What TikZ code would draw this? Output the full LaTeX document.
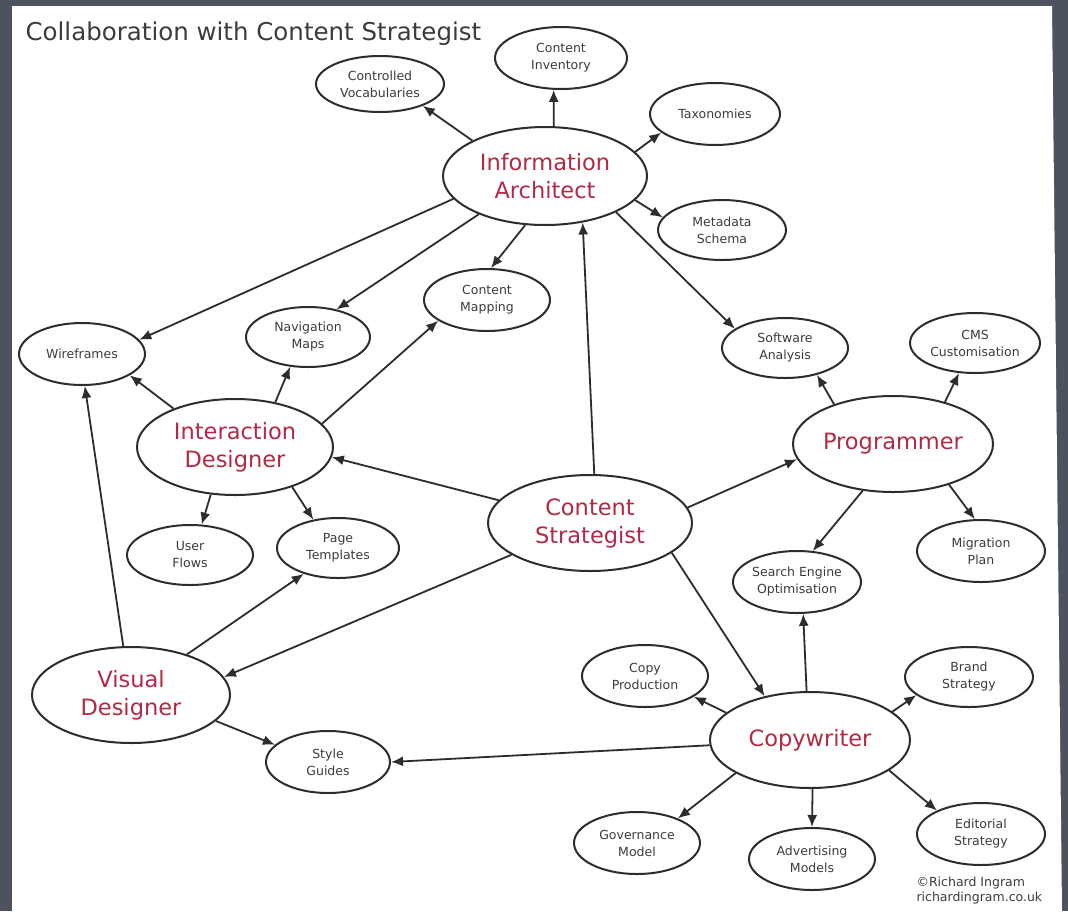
\documentclass[tikz,border=0pt]{standalone}
\usepackage{fontspec}
\setmainfont{DejaVu Sans}
\usetikzlibrary{shapes.geometric,arrows.meta}
\definecolor{bgc}{RGB}{76,82,94}
\definecolor{linec}{RGB}{45,45,45}
\definecolor{textc}{RGB}{60,60,60}
\definecolor{redc}{RGB}{178,42,68}
\newcommand\bigfnt{\fontsize{22.5}{28}\selectfont}
\newcommand\smallfnt{\fontsize{12.5}{17}\selectfont}
\begin{document}
\begin{tikzpicture}[x=1pt,y=-1pt,
  base/.style={ellipse, draw=linec, line width=2pt, fill=white, align=center, inner xsep=-14pt, inner ysep=0pt},
  big/.style={base, font=\bigfnt, text=redc},
  small/.style={base, font=\smallfnt, text=textc},
  arr/.style={draw=linec, line width=1.8pt, -{Latex[length=12pt,width=10pt]}}]
\useasboundingbox (0,0) rectangle (1068,911);
\fill[bgc] (0,0) rectangle (1068,911);
\fill[white] (12,6) -- (1052,6) -- (1062,911) -- (12,911) -- cycle;
\node[anchor=base west, font=\fontsize{24.5}{30}\selectfont, text=textc] (title) at (22,40) {Collaboration with Content Strategist};
% main roles
\node[big, minimum width=204pt, minimum height=98pt] (ia) at (545,176) {Information\\Architect};
\node[big, minimum width=196pt, minimum height=96pt] (id) at (235,447) {Interaction\\Designer};
\node[big, minimum width=204pt, minimum height=96pt] (cs) at (590,523) {Content\\Strategist};
\node[big, minimum width=200pt, minimum height=96pt] (pr) at (893,444) {Programmer};
\node[big, minimum width=198pt, minimum height=96pt] (vd) at (131,695) {Visual\\Designer};
\node[big, minimum width=200pt, minimum height=96pt] (cw) at (810,740) {Copywriter};
% small nodes
\node[small, minimum width=128pt, minimum height=56pt] (cv) at (380,84) {Controlled\\Vocabularies};
\node[small, minimum width=132pt, minimum height=62pt] (ci) at (561,58) {Content\\Inventory};
\node[small, minimum width=130pt, minimum height=62pt] (tx) at (715,114) {Taxonomies};
\node[small, minimum width=128pt, minimum height=60pt] (ms) at (722,230) {Metadata\\Schema};
\node[small, minimum width=126pt, minimum height=62pt] (cm) at (487,300) {Content\\Mapping};
\node[small, minimum width=124pt, minimum height=60pt] (nm) at (308,337) {Navigation\\Maps};
\node[small, minimum width=126pt, minimum height=62pt] (wf) at (82,354) {Wireframes};
\node[small, minimum width=126pt, minimum height=60pt] (uf) at (190,555) {User\\Flows};
\node[small, minimum width=122pt, minimum height=60pt] (pt) at (338,548) {Page\\Templates};
\node[small, minimum width=126pt, minimum height=60pt] (sa) at (785,348) {Software\\Analysis};
\node[small, minimum width=130pt, minimum height=60pt] (cc) at (975,343) {CMS\\Customisation};
\node[small, minimum width=128pt, minimum height=62pt] (mp) at (981,551) {Migration\\Plan};
\node[small, minimum width=128pt, minimum height=62pt] (se) at (797,582) {Search Engine\\Optimisation};
\node[small, minimum width=124pt, minimum height=62pt] (sg) at (328,762) {Style\\Guides};
\node[small, minimum width=126pt, minimum height=62pt] (cp) at (645,676) {Copy\\Production};
\node[small, minimum width=128pt, minimum height=60pt] (bs) at (969,677) {Brand\\Strategy};
\node[small, minimum width=126pt, minimum height=62pt] (gm) at (637,843) {Governance\\Model};
\node[small, minimum width=126pt, minimum height=62pt] (am) at (812,859) {Advertising\\Models};
\node[small, minimum width=128pt, minimum height=62pt] (es) at (981,834) {Editorial\\Strategy};
\node[anchor=north west, align=left, font=\fontsize{12.5}{15}\selectfont, text=textc] (credit) at (913,873) {©Richard Ingram\\richardingram.co.uk};
% connectors from Information Architect
\draw[arr] (ia.154) -- (cv.-27);
\draw[arr] (ia.80) -- (ci.-103);
\draw[arr] (ia.15) -- (tx.-161);
\draw[arr] (ia.-15) -- (ms.168);
\draw[arr] (ia.-27) -- (sa.159);
\draw[arr] (ia.-112) -- (cm.83);
\draw[arr] (ia.-150) -- (nm.44);
\draw[arr] (ia.-166) -- (wf.14);
% from Content Strategist
\draw[arr] (cs.85) -- (ia.-51);
\draw[arr] (cs.166) -- (id.-6);
\draw[arr] (cs.-158) -- (vd.11);
\draw[arr] (cs.9) -- (pr.-171);
\draw[arr] (cs.-20) -- (cw.136);
% from Interaction Designer
\draw[arr] (id.148) -- (wf.-24);
\draw[arr] (id.48) -- (nm.-121);
\draw[arr] (id.15) -- (cm.-157);
\draw[arr] (id.-117) -- (uf.69);
\draw[arr] (id.-35) -- (pt.131);
% from Visual Designer
\draw[arr] (vd.99) -- (wf.-85);
\draw[arr] (vd.36) -- (pt.-143);
\draw[arr] (vd.-17) -- (sg.162);
% from Programmer
\draw[arr] (pr.146) -- (sa.-40);
\draw[arr] (pr.39) -- (cc.-118);
\draw[arr] (pr.-36) -- (mp.101);
\draw[arr] (pr.-123) -- (se.63);
% from Copywriter
\draw[arr] (cw.94) -- (se.-79);
\draw[arr] (cw.162) -- (cp.-23);
\draw[arr] (cw.19) -- (bs.-161);
\draw[arr] (cw.-156) -- (gm.31);
\draw[arr] (cw.-87) -- (am.90);
\draw[arr] (cw.-21) -- (es.152);
\draw[arr] (cw.-177) -- (sg.0);
\end{tikzpicture}
\end{document}
